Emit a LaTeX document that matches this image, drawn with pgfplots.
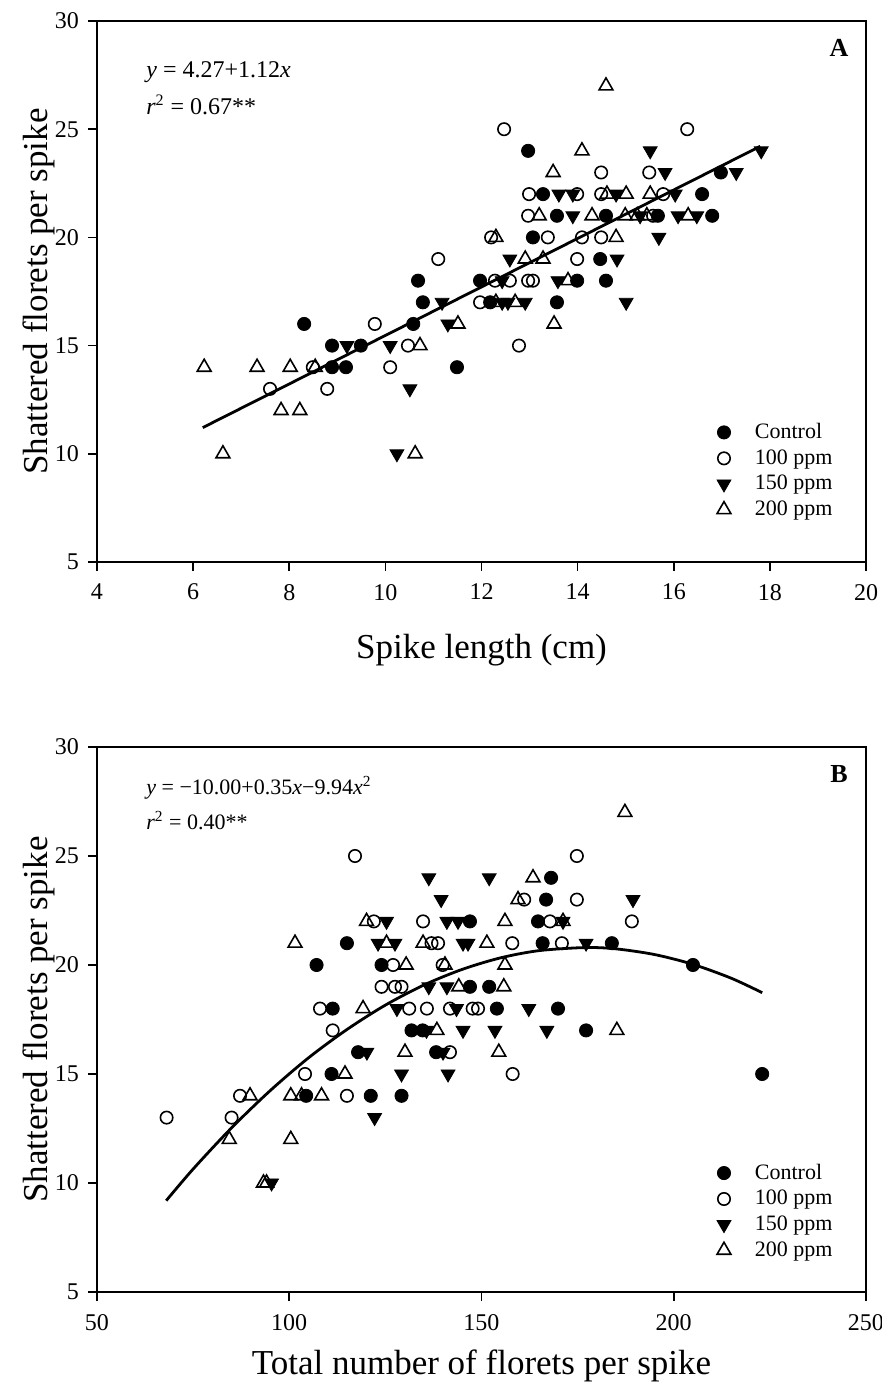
\documentclass[border=0pt]{standalone}
\usepackage{fontspec}
\setmainfont{Liberation Serif}
\usepackage{pgfplots}
\pgfplotsset{compat=1.18}
\pgfplotsset{
  myaxis/.style={
    scale only axis, width=384.5pt,
    axis line style={line width=0.8pt},
    every tick/.style={line width=0.8pt, black},
    tick align=outside, tick pos=left, major tick length=4.5pt,
    ticklabel style={font=\fontsize{12}{14}\selectfont},
    xticklabel style={yshift=-3pt},
    yticklabel style={xshift=-1pt},
    label style={font=\fontsize{17.5}{20}\selectfont},
    xlabel style={at={(rel axis cs:0.5,0)}, anchor=center, yshift=-44pt},
    ylabel style={at={(rel axis cs:-0.076,0.5)}, anchor=center},
    /pgf/number format/assume math mode=true,
    legend style={draw=none, fill=none, font=\fontsize{11}{13}\selectfont,
      row sep=0pt, anchor=south east,
      /tikz/every odd column/.append style={column sep=10pt}},
    legend cell align=left,
  },
  ctrl/.style={only marks, mark=*, mark size=3.3pt, black, mark options={fill=black}},
  c100/.style={only marks, mark=o, mark size=3.1pt, black, line width=0.8pt},
  t150/.style={only marks, mark=triangle*, mark size=4pt, black, mark options={rotate=180, fill=black}},
  t200/.style={only marks, mark=triangle, mark size=4pt, black, line width=0.8pt},
}
\begin{document}
\begin{tikzpicture}
\useasboundingbox (0,0) rectangle (441pt,694.5pt);
% ---------------- Panel A ----------------
\begin{axis}[myaxis, at={(48.5pt,413.5pt)}, anchor=south west, height=270.5pt,
  xmin=4, xmax=20, ymin=5, ymax=30,
  xtick={4,6,...,20}, ytick={5,10,...,30},
  legend style={at={(0.97,0.065)}},
  xlabel={Spike length (cm)}, ylabel={Shattered florets per spike}]
\addplot[ctrl] table {
8.31 16
8.89 15
9.49 15
8.89 14
9.18 14
10.58 16
10.78 17
10.68 18
11.49 14
11.97 18
12.18 17
12.97 24
13.28 22
13.57 21
13.07 20
13.99 18
13.57 17
14.47 19
14.59 18
14.59 21
16.98 23
16.59 22
15.67 21
16.80 21
};
\addlegendentry{Control}
\addplot[c100] table {
7.60 13
8.49 14
8.79 13
9.78 16
10.10 14
10.47 15
11.10 19
12.20 20
11.97 17
12.28 18
12.59 18
12.97 18
13.07 18
12.78 15
12.47 25
12.99 22
12.97 21
13.38 20
14.09 20
14.49 20
13.99 19
13.99 22
14.49 22
14.49 23
15.49 23
15.78 22
15.57 21
16.28 25
};
\addlegendentry{100 ppm}
\addplot[t150] table {
9.20 15
10.10 15
10.51 13
10.24 10
11.18 17
11.30 16
12.43 17
12.55 17
12.91 17
12.43 18
12.59 19
13.59 18
13.61 22
13.90 22
13.90 21
14.80 22
14.82 19
15.01 17
15.51 24
15.82 23
17.30 23
17.82 24
16.03 22
15.30 21
16.09 21
16.48 21
15.69 20
};
\addlegendentry{150 ppm}
\addplot[t200] table {
6.23 14
6.62 10
7.33 14
7.83 12
8.02 14
8.22 12
8.54 14
10.62 10
10.72 15
11.51 16
12.30 20
12.30 17
12.70 17
12.91 19
13.28 19
13.20 21
13.49 23
13.51 16
13.80 18
14.09 24
14.30 21
14.59 27
14.61 22
15.01 22
14.99 21
15.24 21
14.80 20
15.51 22
15.44 21
16.30 21
};
\addlegendentry{200 ppm}
\addplot[black, line width=1.4pt, forget plot] coordinates {(6.2,11.21) (17.8,24.21)};
\node[anchor=west, font=\fontsize{12}{14}\selectfont] at (rel axis cs:0.055,0.905) {\itshape y\upshape\ = 4.27+1.12\itshape x};
\node[anchor=west, font=\fontsize{12}{14}\selectfont] at (rel axis cs:0.055,0.845) {\itshape r\upshape\textsuperscript{2} = 0.67**};
\node[font=\bfseries\fontsize{13}{15}\selectfont] at (rel axis cs:0.965,0.95) {A};
\end{axis}
% ---------------- Panel B ----------------
\begin{axis}[myaxis, at={(48.5pt,48.5pt)}, anchor=south west, height=272.5pt,
  xmin=50, xmax=250, ymin=5, ymax=30,
  xtick={50,100,...,250}, ytick={5,10,...,30},
  legend style={at={(0.97,0.045)}},
  xlabel style={yshift=7pt},
  xlabel={Total number of florets per spike}, ylabel={Shattered florets per spike}]
\addplot[ctrl] table {
115.0 21
147.0 22
164.7 22
166.8 23
168.1 24
165.9 21
183.9 21
107.1 20
124.0 20
205.0 20
147.0 19
152.0 19
111.3 18
154.0 18
169.9 18
131.8 17
134.7 17
177.2 17
117.9 16
138.2 16
111.0 15
223.0 15
104.4 14
121.2 14
129.2 14
};
\addlegendentry{Control}
\addplot[c100] table {
117.1 25
174.8 25
161.1 23
174.8 23
122.0 22
134.8 22
167.8 22
189.1 22
137.0 21
138.7 21
158.0 21
170.9 21
127.0 20
139.9 20
124.0 19
127.5 19
129.2 19
108.0 18
131.2 18
135.8 18
141.8 18
147.7 18
149.1 18
111.3 17
141.8 16
104.1 15
158.1 15
115.0 14
87.2 14
68.1 13
85.0 13
};
\addlegendentry{100 ppm}
\addplot[t150] table {
136.3 24
152.0 24
139.5 23
189.4 23
125.3 22
141.0 22
143.9 22
171.2 22
123.1 21
127.5 21
145.2 21
146.5 21
177.2 21
136.3 19
141.0 19
128.0 18
143.5 18
162.3 18
135.7 17
145.2 17
153.5 17
167.0 17
120.2 16
140.0 16
129.2 15
141.3 15
122.2 13
95.4 10
};
\addlegendentry{150 ppm}
\addplot[t200] table {
187.3 27
163.4 24
159.5 23
120.1 22
156.1 22
171.2 22
101.5 21
125.3 21
134.8 21
151.4 21
130.4 20
140.5 20
156.1 20
144.1 19
155.8 19
119.2 18
138.4 17
185.2 17
130.1 16
154.5 16
114.5 15
89.8 14
100.4 14
103.2 14
108.4 14
84.4 12
100.4 12
93.3 10
94.1 10
};
\addlegendentry{200 ppm}
\addplot[black, line width=1.4pt, smooth, forget plot] coordinates {
(68,9.19) (75,10.64) (85,12.53) (95,14.23) (105,15.74) (115,17.04) (125,18.16)
(135,19.08) (145,19.80) (155,20.33) (165,20.66) (177,20.80) (185,20.74)
(195,20.48) (205,20.03) (215,19.39) (223,18.73)};
\node[anchor=west, font=\fontsize{11}{13}\selectfont] at (rel axis cs:0.055,0.925) {\itshape y\upshape\ = −10.00+0.35\itshape x\upshape−9.94\itshape x\upshape\textsuperscript{2}};
\node[anchor=west, font=\fontsize{11}{13}\selectfont] at (rel axis cs:0.055,0.865) {\itshape r\upshape\textsuperscript{2} = 0.40**};
\node[font=\bfseries\fontsize{13}{15}\selectfont] at (rel axis cs:0.965,0.95) {B};
\end{axis}
\end{tikzpicture}
\end{document}
